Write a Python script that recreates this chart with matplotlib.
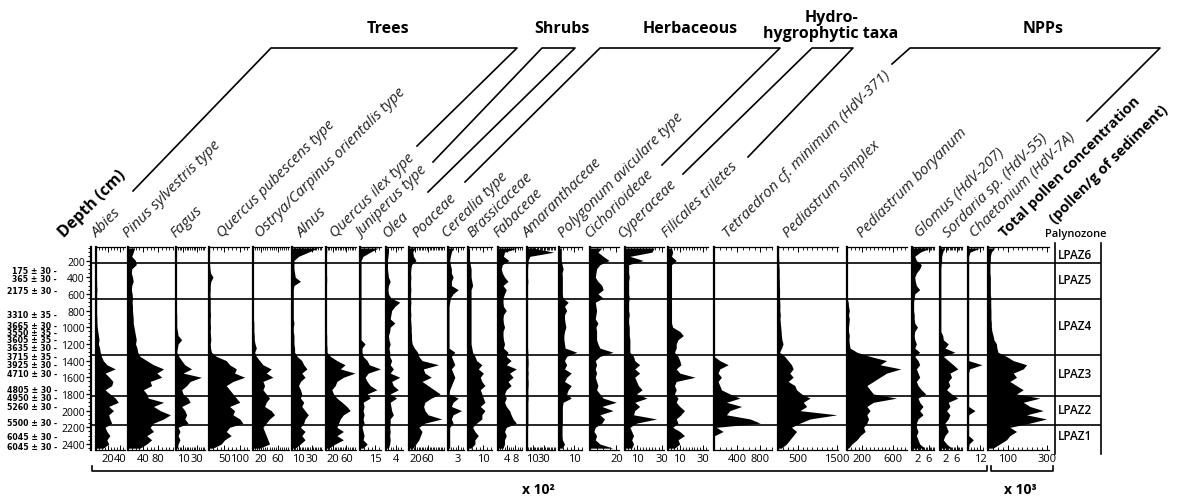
import matplotlib
matplotlib.use("Agg")
import matplotlib.pyplot as plt
import matplotlib.transforms as mtransforms
from matplotlib.lines import Line2D
from matplotlib.ticker import MultipleLocator

plt.rcParams['font.family'] = ['Open Sans', 'DejaVu Sans']

W, H = 1184, 502
fig = plt.figure(figsize=(W / 100, H / 100), dpi=100)


def fx(x):
    return x / W


def fy(y):
    return 1 - y / H


# ---------------- data ----------------
depth = [50, 100, 150, 200, 250, 300, 350, 400, 450, 500, 550, 600, 650, 700, 750, 800,
         850, 900, 950, 1000, 1050, 1100, 1150, 1200, 1250, 1300, 1350, 1400, 1450, 1500,
         1550, 1600, 1650, 1700, 1750, 1800, 1850, 1900, 1950, 2000, 2050, 2100, 2150,
         2200, 2250, 2300, 2350, 2400, 2450]

taxa = ["Abies", "Pinus sylvestris type", "Fagus", "Quercus pubescens type",
        "Ostrya/Carpinus orientalis type", "Alnus", "Quercus ilex type", "Juniperus type",
        "Olea", "Poaceae", "Cerealia type", "Brassicaceae", "Fabaceae", "Amaranthaceae",
        "Polygonum aviculare type", "Cichorioideae", "Cyperaceae", "Filicales triletes",
        "Tetraedron cf. minimum (HdV-371)", "Pediastrum simplex", "Pediastrum boryanum",
        "Glomus (HdV-207)", "Sordaria sp. (HdV-55)", "Chaetonium (HdV-7A)"]

abies = [0.5, 0.5, 0.5, 0.5, 0.5, 0.5, 0.5, 0.5, 1, 1, 1.5, 1, 1, 1, 1, 1, 1, 1.5, 1.5, 2,
         3, 4, 5, 4, 6, 7, 9, 12, 18, 32, 15, 22, 28, 26, 15, 23, 32, 37, 21, 29,
         21, 23, 26, 15, 18, 23, 18, 21, 12]
pinus = [18, 14, 10, 20, 22, 10, 9, 12, 14, 10, 9, 11, 12, 11, 12, 12, 13, 14, 14, 16,
         18, 20, 22, 20, 24, 26, 32, 50, 68, 95, 77, 90, 59, 63, 41, 50, 54, 95, 68, 86,
         113, 95, 68, 59, 68, 50, 63, 50, 32]
fagus = [1, 0.5, 0.5, 0.5, 0.5, 0.5, 0.5, 0.5, 0.5, 0.5, 0.5, 0.5, 0.5, 0.5, 0.5, 0.5, 1, 1, 1, 1,
         2, 3, 8, 3, 2, 1, 4, 8, 12.5, 22, 10, 36, 20, 15, 8, 10, 17, 20, 8, 12.5,
         15, 12.5, 17, 3, 5.6, 3, 5.6, 3, 2]
q_pubescens = [2, 2, 1, 1, 2, 3, 5, 13, 6, 4, 4, 3, 4, 4, 4, 4, 5, 4, 4, 5,
               4, 5, 6, 4, 5, 8, 24, 56, 67, 89, 83, 116, 78, 56, 67, 78, 89, 100, 67, 83,
               78, 100, 110, 67, 56, 72, 51, 40, 13]
ostrya = [1, 1, 1, 1, 1, 1, 1, 1, 1, 1, 1, 1, 1, 1, 1, 1, 1, 1, 2, 2,
          2, 3, 3, 5, 8, 4, 8, 16, 24, 44, 32, 48, 24, 28, 24, 32, 40, 32, 28, 44,
          52, 40, 32, 24, 28, 32, 36, 40, 16]
alnus = [40, 25, 10, 3, 3, 3, 4, 5, 13, 3, 2, 2, 2, 2, 2, 2, 2, 2, 3, 2,
         2, 3, 3, 3, 4, 4, 8, 15, 18, 23, 15, 20, 13, 10, 13, 15, 13, 18, 15, 20,
         25, 20, 18, 13, 20, 15, 20, 13, 5]
q_ilex = [2, 2, 1, 1, 1, 1, 1, 2, 2, 1, 1, 1, 1, 1, 1, 1, 1, 1, 1, 1,
          1, 2, 2, 2, 3, 3, 13, 32, 56, 42, 85, 51, 32, 27, 17, 22, 32, 47, 61, 71,
          51, 42, 37, 32, 51, 32, 51, 27, 8]
juniperus = [18, 10, 3, 1, 1, 1, 1, 1, 1, 1, 1, 1, 1, 1, 1, 1, 1, 1, 1, 1,
             1, 1, 1, 5, 2, 2, 3, 7, 9, 20, 8, 5, 7, 10, 16.5, 7, 10, 3, 4, 3,
             4, 3, 4, 2, 3, 4, 3, 7, 3]
olea = [1, 1, 0.8, 0.6, 0.6, 0.6, 0.8, 1, 1.7, 1, 0.8, 1, 2, 5.6, 3.6, 2.3, 2, 1.7, 3.6, 1.7,
        1.5, 1, 1.2, 1.7, 1.2, 1.5, 1.5, 2.3, 1.7, 3, 1.7, 5.6, 2.3, 3, 5, 1.7, 4.3, 1.7, 2, 2.3,
        3, 1.7, 1.7, 1.5, 1.7, 1.5, 1.7, 1.5, 1]
poaceae = [17, 12, 14, 22, 8, 6, 5, 6, 5, 5, 6, 5, 5, 6, 5, 5, 6, 5, 6, 7,
           7, 8, 8, 10, 17, 27, 31, 41, 93, 45, 50, 70, 41, 60, 79, 98, 70, 50, 46, 50,
           60, 103, 50, 31, 41, 36, 31, 22, 12]
cerealia = [1.5, 1, 0.7, 0.5, 0.7, 1, 1, 1.5, 1, 1, 3, 1.5, 0.7, 0.5, 0.3, 0.3, 0.3, 0.3, 0.3, 0.3,
            0.3, 0.3, 0.3, 0.3, 0.3, 2, 1, 1.5, 2, 1, 1.5, 2, 1.5, 1, 0.5, 0.3, 3, 1.5, 1, 4,
            1.5, 1, 1.5, 0.5, 0.5, 0.5, 0.5, 0.5, 0.5]
brassicaceae = [1, 1, 1, 1, 1.5, 2, 2, 2, 2.5, 3, 2, 2, 2, 2, 2, 2, 2, 2, 2, 2,
                2, 2, 2, 2, 2.5, 3, 4.5, 5.6, 9, 6.7, 10, 8, 9, 11, 8, 9, 10, 11, 8, 11,
                9, 9, 5.6, 3, 4.5, 6.7, 4.5, 4.5, 2]
fabaceae = [9, 3, 2.5, 5, 2, 1.5, 2, 3, 4.6, 2.3, 3.8, 3, 2.3, 2.3, 2.5, 3.8, 2.5, 2.3, 2.5, 3,
            2.3, 2.3, 2.5, 3, 2.5, 4.6, 3.8, 6, 3.8, 8.4, 5.3, 6.9, 4.6, 6, 3.8, 3, 3.8, 3, 3.8, 5.3,
            6, 6.9, 8.4, 3.8, 3, 3.8, 3, 3, 2.3]
amaranthaceae = [10, 48, 5, 2, 1.5, 1, 1, 1, 1.5, 1, 1, 1, 1, 1, 1, 1, 1, 1, 1, 1,
                 1, 1, 1, 1, 1, 1.5, 1.5, 2, 2, 1.5, 2, 1.5, 2, 2, 1.5, 1.5, 2, 1.5, 1.5, 1.5,
                 1.5, 1.5, 1.5, 1, 1, 1, 1, 1, 1]
polygonum = [1.5, 1.5, 1.5, 1.5, 2, 2.7, 2, 2.2, 2.2, 2.2, 2.2, 2.2, 2.5, 6, 3.6, 5, 3.6, 3.6, 4, 4.5,
             3.6, 3.2, 3.2, 3.6, 4, 11.6, 5, 3.6, 5, 3.6, 8, 5, 3.6, 8, 6, 5, 8, 2.7, 2.2, 2.2,
             2.2, 2.2, 2.2, 2, 2, 2, 2.2, 3.6, 2.2]
cichorioideae = [9, 6, 10, 14.5, 7.5, 5, 4.5, 4, 6, 9, 10, 6, 10, 4, 4.5, 5, 4.5, 4, 6, 4.5,
                 5, 5, 5, 6, 7.5, 17.5, 7.5, 4, 5, 4, 5, 4, 5, 6, 5, 7.5, 10, 20, 9, 17.5,
                 7.5, 11, 9, 4, 3, 5, 4, 7.5, 17.5]
cyperaceae = [24, 22, 4, 15, 3, 3, 3, 3.5, 3, 3, 3, 3, 3.5, 3, 3, 3, 3.5, 3, 3, 3.5,
              3.5, 3.5, 4, 4, 4, 4, 7, 8, 12, 8, 12, 8, 9.5, 11, 14, 9.5, 18, 8, 12, 8,
              7, 26, 9.5, 4, 5.5, 7, 5.5, 7, 5.5]
filicales = [3, 4, 3, 7, 3, 3, 3, 3, 3, 3, 3, 3, 3, 3, 3, 3, 3, 3, 3, 4,
             10, 13, 8.5, 7, 7, 5.5, 8.5, 10, 11, 7, 10, 23, 7, 5.5, 7, 5.5, 8.5, 7, 10, 14,
             11, 7, 8.5, 4, 10, 14, 8.5, 10, 5.5]
tetraedron = [0, 0, 0, 0, 0, 0, 0, 0, 0, 0, 0, 0, 0, 0, 0, 0, 0, 0, 0, 0,
              0, 0, 0, 0, 0, 0, 0, 100, 244, 100, 70, 128, 70, 100, 128, 273, 448, 215, 477, 273,
              215, 622, 797, 40, 157, 10, 0, 0, 0]
p_simplex = [15, 15, 15, 20, 20, 30, 30, 30, 35, 35, 40, 40, 40, 45, 50, 45, 60, 50, 60, 70,
             80, 86, 100, 129, 90, 40, 172, 258, 344, 387, 301, 387, 258, 430, 473, 602, 817, 645, 731, 559,
             1505, 817, 559, 344, 473, 387, 301, 215, 86]
p_boryanum = [0, 0, 0, 0, 0, 0, 0, 0, 0, 0, 0, 0, 0, 15, 20, 30, 20, 30, 25, 20,
              20, 30, 25, 30, 40, 129, 300, 515, 429, 700, 515, 429, 343, 258, 300, 343, 644, 343, 258, 300,
              258, 280, 258, 215, 236, 172, 129, 64, 20]
glomus = [6.5, 3, 1, 1.6, 3.4, 2.8, 1.6, 1, 1.2, 1.6, 2.8, 1, 0.8, 0.6, 0.6, 0.6, 0.8, 0.8, 1, 2,
          1, 0.8, 1, 1.6, 1, 2.8, 1, 2.2, 2.8, 1.6, 2.2, 2.8, 1.6, 2.2, 3.4, 5, 2.2, 2.8, 4, 2.8,
          4, 2.2, 1.6, 1.6, 2.2, 1.6, 2.2, 2.8, 4.6]
sordaria = [1.5, 1, 0.6, 0.6, 0.4, 0.3, 0.3, 0.3, 0.3, 0.3, 0.3, 0.3, 0.3, 0.3, 0.3, 0.3, 0.3, 0.3, 0.3, 0.3,
            0.3, 1, 1.2, 3, 1.8, 5.4, 1.2, 3, 4.8, 6.5, 3.6, 4.2, 3, 3.6, 2.4, 4.2, 6.5, 3, 3.6, 2.4,
            3.6, 3, 1.8, 2.4, 3, 1.8, 1.2, 2.4, 4.2]
chaetonium = [12, 2, 0.6, 0.6, 0.6, 0.6, 0.6, 0.6, 0.6, 0.6, 0.6, 0.6, 0.6, 0.6, 0.6, 0.6, 0.6, 0.6, 0.6, 0.6,
              0.6, 0.6, 0.6, 0.6, 0.6, 0.6, 0.6, 0.6, 14, 1.5, 0.6, 0.6, 0.6, 0.6, 0.6, 0.6, 0.6, 0.6, 0.6, 7,
              0.6, 0.6, 0.6, 0.6, 0.6, 0.6, 5.4, 1, 0.6]
total_conc = [34, 17, 12, 12, 10, 10, 10, 12, 12, 12, 12, 12, 14, 14, 14, 15, 15, 15, 17, 17,
              20, 26, 30, 43, 45, 51, 94, 128, 196, 179, 128, 145, 111, 145, 179, 145, 264, 179, 213, 281,
              196, 298, 213, 111, 145, 111, 94, 60, 26]

series = [abies, pinus, fagus, q_pubescens, ostrya, alnus, q_ilex, juniperus, olea, poaceae,
          cerealia, brassicaceae, fabaceae, amaranthaceae, polygonum, cichorioideae, cyperaceae,
          filicales, tetraedron, p_simplex, p_boryanum, glomus, sordaria, chaetonium, total_conc]

axis_max = [48, 120, 41, 130, 87, 46, 88, 20.5, 6.9, 110, 4.7, 15.6, 11, 50, 15, 22, 32, 34,
            1000, 1530, 780, 8, 8, 15, 310]
axis_ticks = [[20, 40], [40, 80], [10, 30], [50, 100], [20, 60], [10, 30], [20, 60], [15], [4],
              [20, 60], [3], [10], [4, 8], [10, 30], [10], [20], [10, 30], [10, 30], [400, 800],
              [500, 1500], [200, 600], [2, 6], [2, 6], [12], [100, 300]]

zone_bounds = [228, 657, 1329, 1829, 2177]
zone_names = ["LPAZ6", "LPAZ5", "LPAZ4", "LPAZ3", "LPAZ2", "LPAZ1"]
zone_centers = [125, 430, 980, 1560, 1990, 2300]

dates = ["175 ± 30", "365 ± 30", "2175 ± 30", "3310 ± 35", "3665 ± 30", "3550 ± 35",
         "3605 ± 35", "3635 ± 30", "3715 ± 35", "3925 ± 30", "4710 ± 30", "4805 ± 30",
         "4950 ± 30", "5260 ± 30", "5500 ± 30", "6045 ± 30", "6045 ± 30"]
date_depths = [320, 412, 560, 850, 975, 1062, 1150, 1245, 1345, 1443, 1555, 1742, 1838,
               1953, 2145, 2310, 2435]

groups = ["Trees", "Shrubs", "Herbaceous", "Hydro-\nhygrophytic taxa", "NPPs"]

# ---------------- layout (pixels) ----------------
TOP, BOT = 248, 451
YLIM = (2472, 38)
panel_l = [96, 128, 176, 209, 253, 292, 326, 360, 386, 409, 448, 468, 498, 527, 559, 590,
           625, 668, 714, 778, 847, 912, 940, 968, 988]
panel_r = [125, 173, 205, 249, 289, 322, 356, 381, 403, 444, 464, 492, 522, 555, 582, 619,
           664, 708, 772, 838, 907, 934, 962, 983, 1049]
label_x = [97, 128, 176, 222, 260, 302, 335, 362, 388, 417, 447, 472, 498, 528, 563, 590,
           623, 667, 728, 788, 862, 920, 948, 975]

for i, vals in enumerate(series):
    l, r = panel_l[i], panel_r[i]
    ax = fig.add_axes([fx(l), fy(BOT), fx(r) - fx(l), (BOT - TOP) / H])
    ax.patch.set_alpha(0)
    ax.fill_betweenx(depth, 0, vals, color='black', lw=0)
    ax.set_xlim(0, axis_max[i])
    ax.set_ylim(*YLIM)
    ax.set_yticks([])
    ax.spines['right'].set_visible(False)
    ax.spines['left'].set_linewidth(1.6)
    ax.spines['top'].set_linewidth(0.9)
    ax.spines['bottom'].set_linewidth(0.9)
    ax.set_xticks(axis_ticks[i])
    ax.xaxis.set_minor_locator(MultipleLocator(axis_ticks[i][0] / 4))
    ax.tick_params(axis='x', which='major', direction='in', top=True, bottom=True,
                   labeltop=False, labelbottom=True, labelsize=8, pad=2, length=3.5,
                   width=0.7)
    ax.tick_params(axis='x', which='minor', direction='in', top=True, bottom=True,
                   length=2, width=0.6)

# depth axis
dax = fig.add_axes([fx(91), fy(BOT), 1 / W, (BOT - TOP) / H])
dax.patch.set_alpha(0)
for s in ['right', 'top', 'bottom']:
    dax.spines[s].set_visible(False)
dax.spines['left'].set_linewidth(1.6)
dax.set_ylim(*YLIM)
dax.set_xticks([])
dax.set_yticks([200, 400, 600, 800, 1000, 1200, 1400, 1600, 1800, 2000, 2200, 2400])
dax.yaxis.set_minor_locator(MultipleLocator(50))
dax.tick_params(axis='y', which='major', direction='out', length=3.5, width=0.9,
                labelsize=7.5, pad=1)
dax.tick_params(axis='y', which='minor', direction='out', length=2, width=0.7)

# radiocarbon dates
blend = mtransforms.blended_transform_factory(fig.transFigure, dax.transData)
for lab, d in zip(dates, date_depths):
    fig.text(fx(57), d, lab + " -", transform=blend, ha='right', va='center',
             fontsize=5.6, fontweight='bold', family=['DejaVu Sans'])

# overlay for zone lines
oax = fig.add_axes([fx(91), fy(BOT), fx(1101) - fx(91), (BOT - TOP) / H])
oax.set_xlim(0, 1)
oax.set_ylim(*YLIM)
oax.axis('off')
for zb in zone_bounds:
    oax.axhline(zb, color='black', lw=1.2)
zx = (1058 - 91) / (1101 - 91)
for name, c in zip(zone_names, zone_centers):
    oax.text(zx, c, name, ha='left', va='center', fontsize=8.5, fontweight='semibold')

# palynozone column borders
fig.add_artist(Line2D([fx(1055), fx(1055)], [fy(244), fy(455)], color='black', lw=1.2))
fig.add_artist(Line2D([fx(1101), fx(1101)], [fy(244), fy(455)], color='black', lw=1.2))
fig.text(fx(1076), fy(235), "Palynozone", ha='center', va='center', fontsize=8,
         fontweight='semibold')

# taxa labels
for name, lx in zip(taxa, label_x):
    fig.text(fx(lx), fy(238), name, rotation=45, rotation_mode='anchor', ha='left',
             va='baseline', fontsize=10.8, fontstyle='italic', color='#222222')
fig.text(fx(1005), fy(238), "Total pollen concentration", rotation=45,
         rotation_mode='anchor', ha='left', va='baseline', fontsize=10.5, fontweight='bold')
fig.text(fx(1055), fy(224), "(pollen/g of sediment)", rotation=45,
         rotation_mode='anchor', ha='left', va='baseline', fontsize=10.5, fontweight='bold')
fig.text(fx(64), fy(238), "Depth (cm)", rotation=45, rotation_mode='anchor', ha='left',
         va='baseline', fontsize=11.5, fontweight='bold')

# group brackets
brackets = [
    [(133, 192), (271, 49), (517, 49), (417, 147)],
    [(433, 163), (542, 49), (575, 49), (428, 193)],
    [(465, 183), (600, 49), (780, 49), (662, 166)],
    [(683, 175), (812, 49), (853, 49), (748, 158)],
    [(892, 65), (910, 49), (1160, 49), (1087, 122)],
]
for pts in brackets:
    xs = [fx(p[0]) for p in pts]
    ys = [fy(p[1]) for p in pts]
    fig.add_artist(Line2D(xs, ys, color='black', lw=1.2))

group_pos = [(388, 29), (562, 29), (690, 29), (831, 26), (1043, 29)]
for g, (gx, gy) in zip(groups, group_pos):
    fig.text(fx(gx), fy(gy), g, ha='center', va='center', fontsize=11.5, fontweight='bold',
             linespacing=1.05)

# bottom brackets
for x0, x1 in [(92, 987), (991, 1053)]:
    fig.add_artist(Line2D([fx(x0), fx(x0), fx(x1), fx(x1)],
                          [fy(467), fy(472), fy(472), fy(467)], color='black', lw=1.2))
fig.text(fx(538), fy(490), "x 10²", ha='center', va='center', fontsize=10, fontweight='bold')
fig.text(fx(1020), fy(490), "x 10³", ha='center', va='center', fontsize=10, fontweight='bold')

fig.savefig("out.png", dpi=100)
